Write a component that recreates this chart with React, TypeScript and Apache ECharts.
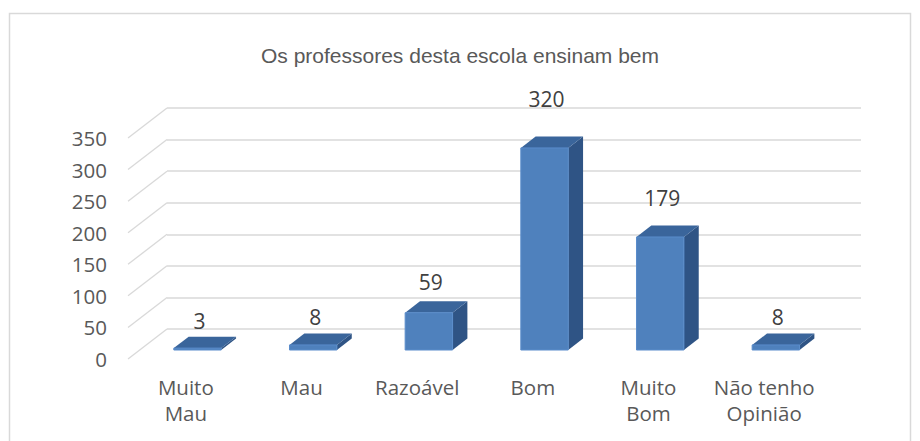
import React, { useEffect, useRef } from "react";
import * as echarts from "echarts";

const titleText = "Os professores desta escola ensinam bem";
const categories = ["Muito\nMau", "Mau", "Razoável", "Bom", "Muito\nBom", "Não tenho\nOpinião"];
const values = [3, 8, 59, 320, 179, 8];
const yMin = 0;
const yMax = 350;
const yStep = 50;
const yTicks = [0, 50, 100, 150, 200, 250, 300, 350];

// geometry of the pseudo-3D box (back wall grid and front plane grid)
const BACK = { left: 167, right: 59, top: 108, bottom: 112 };
const DX = 39; // depth vector, back wall -> front plane
const DY = 30;
const BAR_T0 = 0.3; // bar front face depth fraction (from front plane)
const BAR_T1 = 0.68; // bar back face depth fraction
const BAR_W = 0.41; // bar width relative to category band

const TXT = "#595959";
const GRID = "#d9d9d9";

export default function App() {
  const ref = useRef<HTMLDivElement>(null);
  useEffect(() => {
    if (!ref.current) return;
    const chart = echarts.init(ref.current, null, { renderer: "svg" });
    const option: any = {
      animation: false,
      backgroundColor: "#ffffff",
      title: {
        text: titleText,
        left: "center",
        top: 40,
        textStyle: { fontFamily: "Liberation Sans", fontSize: 21, fontWeight: "normal", color: TXT },
      },
      graphic: [
        {
          type: "rect",
          shape: { x: 9.5, y: 13.5, width: 901, height: 440 },
          style: { fill: "none", stroke: GRID, lineWidth: 1.5 },
          silent: true,
        },
      ],
      grid: [
        { left: BACK.left, right: BACK.right, top: BACK.top, bottom: BACK.bottom },
        { left: BACK.left - DX, right: BACK.right + DX, top: BACK.top + DY, bottom: BACK.bottom - DY },
      ],
      xAxis: [
        { type: "category", gridIndex: 0, data: categories, show: false },
        {
          type: "category",
          gridIndex: 1,
          data: categories,
          axisLine: { show: false },
          axisTick: { show: false },
          axisLabel: {
            interval: 0,
            margin: 15,
            color: TXT,
            fontFamily: "Open Sans",
            fontSize: 20.5,
            lineHeight: 26,
          },
        },
      ],
      yAxis: [
        {
          type: "value",
          gridIndex: 0,
          min: yMin,
          max: yMax,
          interval: yStep,
          axisLine: { show: false },
          axisTick: { show: false },
          axisLabel: { show: false },
          splitLine: { lineStyle: { color: GRID, width: 1.5 } },
        },
        {
          type: "value",
          gridIndex: 1,
          min: yMin,
          max: yMax,
          interval: yStep,
          axisLine: { show: false },
          axisTick: { show: false },
          splitLine: { show: false },
          axisLabel: {
            margin: 21,
            color: TXT,
            fontFamily: "Open Sans",
            fontSize: 20.5,
          },
        },
      ],
      series: [
        {
          type: "custom",
          xAxisIndex: 0,
          yAxisIndex: 0,
          silent: true,
          data: yTicks.map((v) => [0, v]),
          renderItem: (params: any, api: any) => {
            const y = api.coord([0, api.value(1)])[1];
            const x = params.coordSys.x;
            return {
              type: "line",
              shape: { x1: x, y1: y, x2: x - DX, y2: y + DY },
              style: { stroke: GRID, lineWidth: 1.3 },
            };
          },
        },
        {
          type: "custom",
          xAxisIndex: 1,
          yAxisIndex: 1,
          silent: true,
          data: values.map((v, i) => [i, v]),
          renderItem: (params: any, api: any) => {
            const idx = api.value(0);
            const v = api.value(1);
            const top = api.coord([idx, v]);
            const bot = api.coord([idx, 0]);
            const cw = api.size([1, 0])[0];
            const w = cw * BAR_W;
            const ox = DX * BAR_T0;
            const oy = -DY * BAR_T0;
            const sx = DX * (BAR_T1 - BAR_T0);
            const sy = -DY * (BAR_T1 - BAR_T0);
            const fx0 = top[0] + ox - w / 2;
            const fx1 = top[0] + ox + w / 2;
            const fyT = top[1] + oy;
            const fyB = bot[1] + oy;
            const h = fyB - fyT;
            const gap = 27 + 0.11 * h;
            return {
              type: "group",
              children: [
                {
                  type: "polygon",
                  shape: { points: [[fx1, fyT], [fx1 + sx, fyT + sy], [fx1 + sx, fyB + sy], [fx1, fyB]] },
                  style: { fill: "#2f5485" },
                },
                {
                  type: "polygon",
                  shape: { points: [[fx0, fyT], [fx1, fyT], [fx1 + sx, fyT + sy], [fx0 + sx, fyT + sy]] },
                  style: { fill: "#3a659b" },
                },
                {
                  type: "rect",
                  shape: { x: fx0, y: fyT, width: w, height: h },
                  style: { fill: "#4f81bd", stroke: "#5a8ccb", lineWidth: 1 },
                },
                {
                  type: "text",
                  x: top[0] + ox + 2,
                  y: fyT - gap,
                  style: {
                    text: String(v),
                    align: "center",
                    verticalAlign: "middle",
                    fill: "#404040",
                    fontFamily: "Open Sans",
                    fontSize: 21,
                  },
                },
              ],
            };
          },
        },
      ],
    };
    chart.setOption(option);
    return () => chart.dispose();
  }, []);
  return (
    <div
      ref={ref}
      style={{ position: "fixed", left: 0, top: 0, width: 920, height: 441, background: "#fff" }}
    />
  );
}
